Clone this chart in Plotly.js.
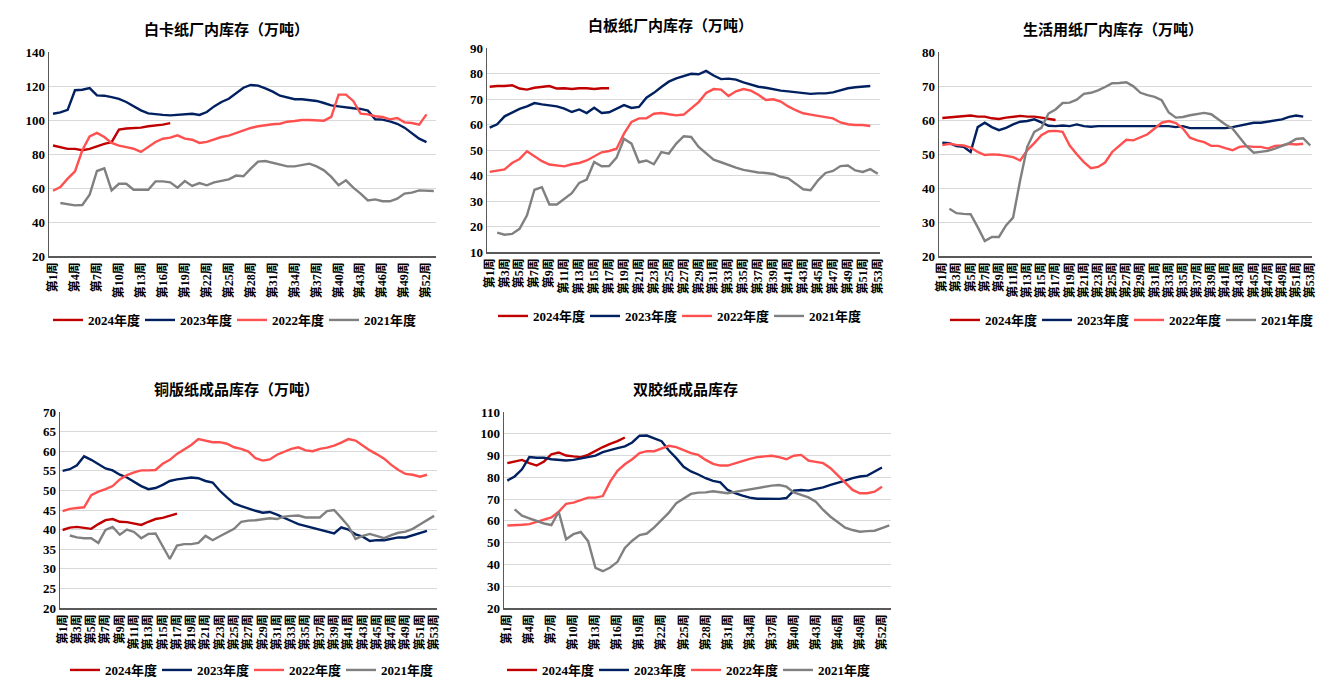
<!DOCTYPE html>
<html>
<head>
<meta charset="utf-8">
<script src="https://cdn.plot.ly/plotly-3.0.1.min.js"></script>
<style>
  html, body { margin: 0; padding: 0; background: #fff; }
  #plot { width: 1328px; height: 684px; }
</style>
</head>
<body>
<div id="plot"></div>
<script>
// week categories
var weeks = [];
for (var i = 1; i <= 53; i++) weeks.push('第' + i + '周');

var seriesNames = ['2024年度', '2023年度', '2022年度', '2021年度'];

// 白卡纸厂内库存（万吨）
var baika2024 = [85,84,83,83,82.2,83,84.5,86,87,94.3,95,95.3,95.5,96.3,96.7,97.3,98.2];
var baika2023 = [103.7,104.5,106,117.5,117.8,118.8,114.5,114.3,113.5,112.4,110.6,108.2,105.7,103.9,103.3,103,102.7,103,103.7,103.7,103,104.7,108,110.6,112.5,115.9,119,120.6,120.2,118.6,116.7,114.3,113.1,112.2,112.2,111.8,111.2,110,108.6,108,107.3,106.9,106.5,105.5,100.4,100.2,99.2,97.8,95.5,92,89,87];
var baika2022 = [58.4,60.6,65.5,69.8,82.2,90.4,92.4,90,86.5,84.9,84,83.1,81.2,84.1,87.1,89,89.6,91,89,88.4,86.5,87.1,88.4,90,90.8,92.4,93.9,95.3,96.3,97.1,97.5,97.8,99,99.4,100,100,99.6,99.6,101.8,114.9,114.9,111.2,103.7,103.3,102.2,101.8,100.4,101.2,98.6,98.2,97.3,103.3];
var baika2021 = [null,51.2,50.4,49.8,50,56.1,70,71.6,58.6,62.5,62.5,59,59,59,63.9,63.9,63.3,60.2,64.1,61.2,62.9,61.6,63.3,64.1,65.1,67.3,66.9,71.4,75.5,75.9,74.9,73.9,72.7,72.7,73.3,74.3,72.7,70.4,66.5,61.6,64.5,60.2,56.7,52.7,53.3,52.2,52.2,53.7,56.7,57.3,58.6,58.2,58.2];

// 白板纸厂内库存（万吨）
var baiban2024 = [74.8,75.1,75.1,75.4,74.1,73.7,74.4,74.8,75.1,74.1,74.2,73.9,74.2,74.2,73.9,74.2,74.2];
var baiban2023 = [58.8,60.1,63.2,64.8,66.1,67.1,68.4,67.9,67.5,67.1,66.2,64.9,65.9,64.5,66.6,64.5,64.8,66.1,67.6,66.5,66.9,70.5,72.4,74.7,76.8,78.1,79,79.9,79.7,81,79.2,77.8,78,77.6,76.5,75.6,74.8,74.4,73.8,73.3,73,72.6,72.2,72,72.2,72.2,72.6,73.4,74.2,74.6,74.8,75.1];
var baiban2022 = [41.4,42,42.4,44.9,46.5,49.5,47.7,45.6,44.3,43.9,43.6,44.4,44.9,45.9,47.5,49.1,49.6,50.5,56.4,61,62.4,62.4,64.2,64.5,64,63.6,63.9,66.2,68.8,72.4,73.9,73.7,71.2,73,73.9,73.3,71.7,69.6,69.9,69,67.1,65.6,64.4,63.9,63.5,62.9,62.4,60.8,60.1,59.8,59.8,59.4];
var baiban2021 = [null,17.6,16.8,17.1,19.1,24.4,34.4,35.4,28.6,28.6,30.7,33.1,37.1,38.4,45.3,43.6,43.7,47,54.4,52.5,45.2,45.9,44.4,49.2,48.6,52.5,55.4,55.1,51.2,48.6,46.2,45.2,44,43.1,42.2,41.6,41.2,41,40.6,39.5,38.9,36.8,34.6,34.2,38.1,41,41.8,43.7,43.9,42,41.4,42.5,40.7];

// 生活用纸厂内库存（万吨）
var shenghuo2024 = [60.6,60.8,60.9,61.2,61.3,61,61,60.5,60.3,60.7,61,61.2,61,61,60.7,60.3,60];
var shenghuo2023 = [53.3,53.2,52.3,52.1,50.6,57.9,59.2,57.9,57,57.7,58.7,59.5,59.7,60.2,59.3,58.3,58.2,58.4,58.2,58.7,58.2,58,58.2,58.2,58.2,58.2,58.4,58.4,58.4,58.2,58.2,58.2,58.2,57.9,58.2,57.6,57.6,57.6,57.5,57.5,57.6,57.9,58.4,58.9,59.2,59.2,59.5,59.7,60.2,60.9,61.3,61];
var shenghuo2022 = [52.6,53,52.7,52.5,51.9,50.6,49.7,49.9,49.8,49.4,49.1,48.1,51.1,53.2,55.5,56.7,56.8,56.5,52.5,49.9,47.6,45.8,46.2,47.5,50.6,52.4,54.2,54,54.8,55.8,57.5,59.2,59.7,59.1,57.5,54.8,54,53.5,52.4,52.4,51.7,51.1,52.1,52.3,52.1,52.1,51.6,52.4,52.5,53,52.8,53];
var shenghuo2021 = [null,33.9,32.6,32.4,32.3,28.5,24.4,25.6,25.6,29,31.3,42.3,52.1,56.5,57.7,61.9,63.1,65,65.1,66,67.7,68,68.7,69.7,70.8,70.9,71.1,69.9,68,67.3,66.8,65.8,62.2,60.7,60.9,61.4,61.7,62.1,61.7,60.1,58.7,57.5,55,52.3,50.4,50.6,50.9,51.6,52.4,53.2,54.4,54.6,52.5];

// 铜版纸成品库存（万吨）
var tongban2024 = [39.9,40.5,40.7,40.5,40.2,41.4,42.4,42.7,42,41.9,41.5,41.2,42,42.7,43,43.5,44.1];
var tongban2023 = [55,55.4,56.4,58.7,57.8,56.7,55.6,55.1,54,53.3,52.1,51.1,50.3,50.6,51.4,52.4,52.8,53.1,53.3,53.1,52.4,52,49.9,48.2,46.7,46,45.3,44.8,44.3,44.5,43.8,43.1,42.2,41.4,40.9,40.4,40,39.5,39,40.6,40,38.8,38.2,37.1,37.3,37.3,37.7,38,38,38.5,39,39.7];
var tongban2022 = [44.7,45.3,45.5,45.7,48.8,49.7,50.3,51.1,52.8,53.9,54.6,55.1,55.1,55.2,56.8,57.8,59.3,60.5,61.6,63.1,62.7,62.3,62.3,61.9,61,60.6,59.9,58.2,57.6,57.9,59.1,59.9,60.6,61,60.2,60,60.6,60.9,61.4,62.2,63.1,62.7,61.4,60.2,59.2,58.1,56.5,55.2,54.2,54,53.5,54];
var tongban2021 = [null,38.5,38,37.8,37.8,36.6,39.9,40.7,38.7,40,39.4,37.8,38.9,39,35.9,32.5,35.9,36.3,36.3,36.6,38.4,37.3,38.3,39.2,40.2,42,42.3,42.4,42.7,42.9,42.7,43.3,43.5,43.6,43.1,43.1,43.1,44.7,45,43,40.9,37.6,38.4,38.9,38.4,37.8,38.6,39.2,39.5,40.2,41.3,42.4,43.5];

// 双胶纸成品库存
var shuangjiao2024 = [86.5,87.3,88,86.5,85.4,87.3,90.6,91.4,90,89.6,89.3,90.3,92.2,93.9,95.4,96.6,98.3];
var shuangjiao2023 = [78.5,80.4,83.7,89.3,89,89,88.3,88,87.7,88,88.6,89.3,90,91.6,92.6,93.4,94.2,96,99.1,99.2,97.9,96.6,92.3,88.8,84.8,82.7,81.3,79.6,78.4,77.7,74.2,72.7,71.6,70.7,70.2,70.1,70.1,70.1,70.5,73.9,74.2,73.9,74.7,75.4,76.5,77.4,78.5,79.6,80.4,80.8,82.7,84.5];
var shuangjiao2022 = [57.9,57.9,58.2,58.5,59.6,60.8,61.6,64.2,67.8,68.4,69.6,70.7,70.7,71.4,78,83,86,88.3,91.1,92,92,93.4,94.5,93.9,92.6,91.1,90.3,88,86.2,85.4,85.4,86.5,87.6,88.5,89.3,89.6,89.9,89.3,88.3,89.9,90.3,87.7,87,86.5,84.2,80.7,77.7,74.2,72.7,72.7,73.4,75.7];
var shuangjiao2021 = [null,65.3,62.4,61.2,59.9,58.8,58.1,64.2,51.6,53.9,54.9,50.7,38.4,36.9,38.6,41.2,47.6,50.9,53.5,54.2,57,60.4,63.8,68.1,70.4,72.4,73,73.1,73.6,73,72.7,73.3,73.9,74.5,74.8,75.4,76.2,76.5,75.7,73.1,71.9,70.8,68.8,65,61.9,59.5,56.9,55.8,55,55.3,55.5,56.7,57.9];

var colors = ['#C00000', '#002060', '#FF5050', '#808080'];
var serif = 'Liberation Serif, Times New Roman, Noto Sans CJK SC, serif';
var W = 1328, H = 684;

var panels = [
  {title: '白卡纸厂内库存（万吨）', data: [baika2024, baika2023, baika2022, baika2021],
   box: [49, 436, 52, 256], yr: [20, 140], dt: 20, step: 3, xr: [-0.55, 52.3], tx: 227, ty: 28, ly: 320, lx: 48},
  {title: '白板纸厂内库存（万吨）', data: [baiban2024, baiban2023, baiban2022, baiban2021],
   box: [487, 880, 48, 252], yr: [10, 90], dt: 10, step: 2, xr: [-0.36, 52.3], tx: 671, ty: 24, ly: 316, lx: 493},
  {title: '生活用纸厂内库存（万吨）', data: [shenghuo2024, shenghuo2023, shenghuo2022, shenghuo2021],
   box: [939, 1312, 52, 256], yr: [20, 80], dt: 10, step: 2, xr: [-0.47, 52.24], tx: 1113, ty: 28, ly: 320, lx: 945},
  {title: '铜版纸成品库存（万吨）', data: [tongban2024, tongban2023, tongban2022, tongban2021],
   box: [60, 437, 412, 608], yr: [20, 70], dt: 5, step: 2, xr: [-0.37, 52.4], tx: 236, ty: 388, ly: 670, lx: 65},
  {title: '双胶纸成品库存', data: [shuangjiao2024, shuangjiao2023, shuangjiao2022, shuangjiao2021],
   box: [504, 891, 412, 608], yr: [20, 110], dt: 10, step: 3, xr: [-0.45, 52.23], tx: 685, ty: 389, ly: 670, lx: 502}
];

var traces = [];
var layout = {
  width: W, height: H,
  margin: {l: 0, r: 0, t: 0, b: 0, autoexpand: false},
  paper_bgcolor: '#fff', plot_bgcolor: '#fff',
  showlegend: true,
  annotations: []
};

panels.forEach(function(p, k) {
  var n = k + 1;
  var sfx = (n === 1 ? '' : String(n));
  var lg = 'legend' + sfx;

  p.data.forEach(function(vals, s) {
    traces.push({
      type: 'scatter', mode: 'lines',
      name: seriesNames[s],
      x: weeks.slice(0, vals.length),
      y: vals,
      xaxis: 'x' + sfx,
      yaxis: 'y' + sfx,
      legend: lg,
      line: {color: colors[s], width: 2.4},
      connectgaps: false,
      hoverinfo: 'skip'
    });
  });

  var tv = [];
  for (var w = 0; w < 53; w += p.step) tv.push(weeks[w]);

  layout['xaxis' + sfx] = {
    domain: [p.box[0] / W, p.box[1] / W],
    anchor: 'y' + sfx,
    type: 'category',
    categoryorder: 'array', categoryarray: weeks,
    range: p.xr,
    tickmode: 'array', tickvals: tv, ticktext: tv,
    tickangle: -90,
    tickfont: {family: serif, size: 12, color: '#000', weight: 700},
    showgrid: false, zeroline: false,
    showline: true, linecolor: '#595959', linewidth: 1.5,
    ticks: '', fixedrange: true
  };
  layout['yaxis' + sfx] = {
    domain: [1 - p.box[3] / H, 1 - p.box[2] / H],
    anchor: 'x' + sfx,
    range: p.yr, dtick: p.dt, tick0: p.yr[0],
    tickfont: {family: serif, size: 13, color: '#000', weight: 700},
    showgrid: true, gridcolor: '#D9D9D9', gridwidth: 1,
    zeroline: false,
    showline: true, linecolor: '#595959', linewidth: 1.5,
    ticks: '', fixedrange: true
  };
  layout[lg] = {
    orientation: 'h',
    x: p.lx / W, xanchor: 'left',
    y: 1 - p.ly / H, yanchor: 'middle',
    font: {family: serif, size: 13, color: '#000', weight: 700},
    entrywidth: 47, entrywidthmode: 'pixels',
    itemwidth: 30,
    bgcolor: 'rgba(0,0,0,0)',
    traceorder: 'normal'
  };
  layout.annotations.push({
    text: p.title,
    xref: 'paper', yref: 'paper',
    x: p.tx / W,
    y: 1 - p.ty / H,
    xanchor: 'center', yanchor: 'middle',
    showarrow: false,
    font: {family: 'Noto Sans CJK SC, sans-serif', size: 15, color: '#000', weight: 700}
  });
});

Plotly.newPlot('plot', traces, layout, {displayModeBar: false, staticPlot: true});
</script>
</body>
</html>
